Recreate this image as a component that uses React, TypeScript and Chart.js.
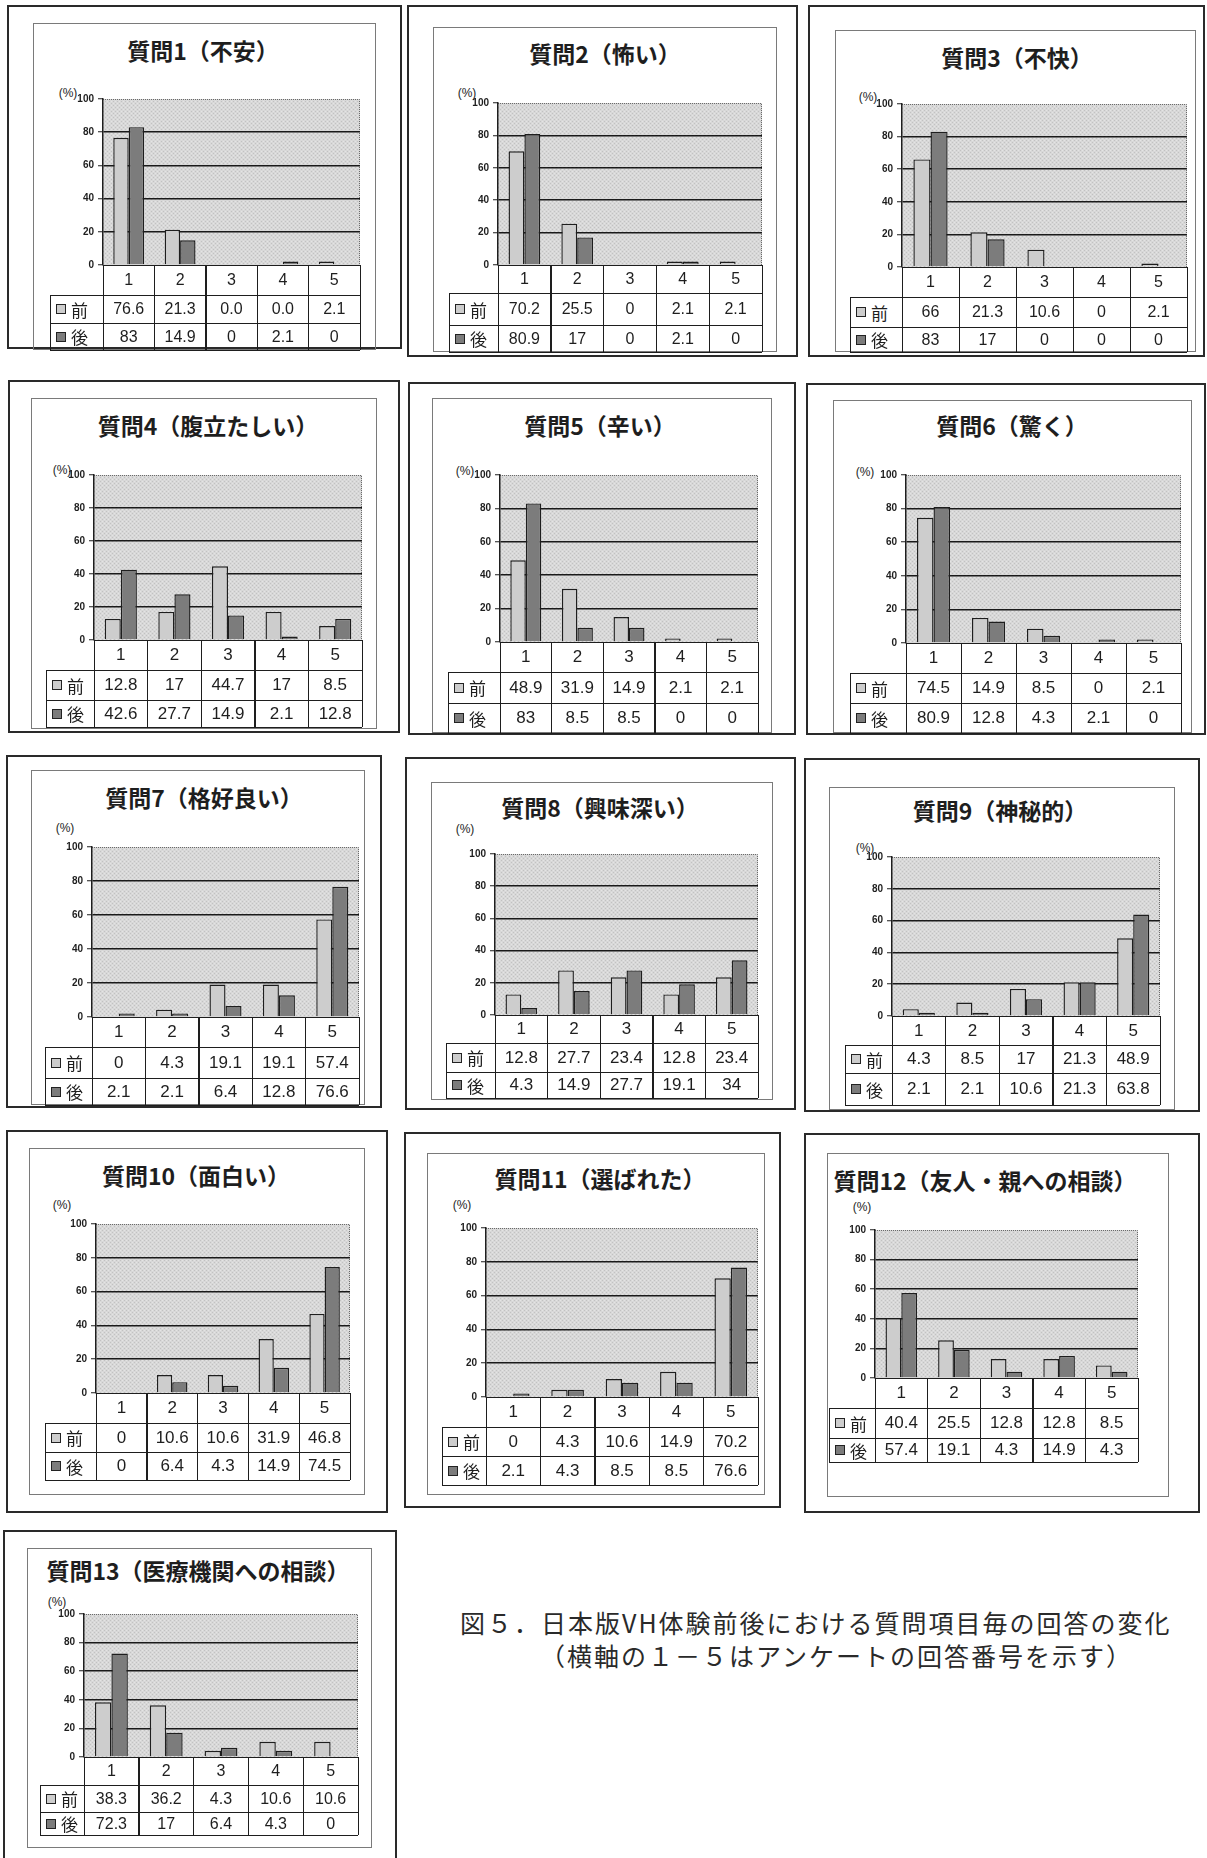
import React, { useEffect, useRef } from "react";
import { Chart, registerables } from "chart.js";

Chart.register(...registerables);

// ---------- data ----------
const categories = ["1", "2", "3", "4", "5"];
const seriesNames = ["前", "後"];
const yTickStep = 20;
const yMax = 100;

const titles = [
  "質問1（不安）",
  "質問2（怖い）",
  "質問3（不快）",
  "質問4（腹立たしい）",
  "質問5（辛い）",
  "質問6（驚く）",
  "質問7（格好良い）",
  "質問8（興味深い）",
  "質問9（神秘的）",
  "質問10（面白い）",
  "質問11（選ばれた）",
  "質問12（友人・親への相談）",
  "質問13（医療機関への相談）",
];

const q1Before = [76.6, 21.3, 0.0, 0.0, 2.1];
const q1After = [83, 14.9, 0, 2.1, 0];
const q2Before = [70.2, 25.5, 0, 2.1, 2.1];
const q2After = [80.9, 17, 0, 2.1, 0];
const q3Before = [66, 21.3, 10.6, 0, 2.1];
const q3After = [83, 17, 0, 0, 0];
const q4Before = [12.8, 17, 44.7, 17, 8.5];
const q4After = [42.6, 27.7, 14.9, 2.1, 12.8];
const q5Before = [48.9, 31.9, 14.9, 2.1, 2.1];
const q5After = [83, 8.5, 8.5, 0, 0];
const q6Before = [74.5, 14.9, 8.5, 0, 2.1];
const q6After = [80.9, 12.8, 4.3, 2.1, 0];
const q7Before = [0, 4.3, 19.1, 19.1, 57.4];
const q7After = [2.1, 2.1, 6.4, 12.8, 76.6];
const q8Before = [12.8, 27.7, 23.4, 12.8, 23.4];
const q8After = [4.3, 14.9, 27.7, 19.1, 34];
const q9Before = [4.3, 8.5, 17, 21.3, 48.9];
const q9After = [2.1, 2.1, 10.6, 21.3, 63.8];
const q10Before = [0, 10.6, 10.6, 31.9, 46.8];
const q10After = [0, 6.4, 4.3, 14.9, 74.5];
const q11Before = [0, 4.3, 10.6, 14.9, 70.2];
const q11After = [2.1, 4.3, 8.5, 8.5, 76.6];
const q12Before = [40.4, 25.5, 12.8, 12.8, 8.5];
const q12After = [57.4, 19.1, 4.3, 14.9, 4.3];
const q13Before = [38.3, 36.2, 4.3, 10.6, 10.6];
const q13After = [72.3, 17, 6.4, 4.3, 0];

const beforeValues = [q1Before, q2Before, q3Before, q4Before, q5Before, q6Before, q7Before, q8Before, q9Before, q10Before, q11Before, q12Before, q13Before];
const afterValues = [q1After, q2After, q3After, q4After, q5After, q6After, q7After, q8After, q9After, q10After, q11After, q12After, q13After];
// question 1 "前" row is printed with one decimal
const beforeFixedOneDecimal = [true, false, false, false, false, false, false, false, false, false, false, false, false];

const captionLines = [
  "図５．日本版VH体験前後における質問項目毎の回答の変化",
  "（横軸の１－５はアンケートの回答番号を示す）",
];

// ---------- layout (page pixel geometry) ----------
type PanelLayout = {
  outer: number[];
  inner: number[];
  title: number[];
  pct: number[];
  plot: number[];
  rows: number[];
  leftX: number;
  narrow: boolean;
};

const layouts: PanelLayout[] = [
  { outer: [7, 5, 402, 349], inner: [33, 23, 376, 350], title: [203, 50], pct: [68, 93], plot: [103, 99, 360, 265], rows: [265, 295, 323, 350], leftX: 50, narrow: false },
  { outer: [407, 5, 798, 357], inner: [433, 27, 777, 352], title: [605, 53], pct: [467, 93], plot: [498, 103, 762, 265], rows: [265, 293, 325, 352], leftX: 449, narrow: false },
  { outer: [808, 5, 1205, 357], inner: [835, 30, 1196, 352], title: [1017, 57], pct: [868, 97], plot: [902, 104, 1187, 267], rows: [267, 297, 327, 352], leftX: 850, narrow: false },
  { outer: [8, 380, 400, 733], inner: [31, 398, 377, 729], title: [208, 425], pct: [62, 470], plot: [94, 475, 362, 640], rows: [640, 670, 700, 727], leftX: 46, narrow: true },
  { outer: [408, 382, 796, 735], inner: [432, 398, 772, 733], title: [600, 425], pct: [465, 471], plot: [500, 475, 758, 642], rows: [642, 672, 703, 733], leftX: 448, narrow: true },
  { outer: [806, 383, 1206, 735], inner: [833, 400, 1192, 733], title: [1012, 425], pct: [865, 472], plot: [906, 475, 1181, 643], rows: [643, 673, 703, 733], leftX: 850, narrow: true },
  { outer: [6, 755, 382, 1108], inner: [31, 770, 365, 1105], title: [204, 797], pct: [65, 828], plot: [92, 847, 359, 1017], rows: [1017, 1047, 1078, 1105], leftX: 45, narrow: true },
  { outer: [405, 757, 796, 1110], inner: [431, 782, 773, 1100], title: [600, 807], pct: [465, 829], plot: [495, 854, 758, 1015], rows: [1015, 1043, 1072, 1098], leftX: 446, narrow: true },
  { outer: [804, 758, 1200, 1112], inner: [829, 787, 1175, 1110], title: [1000, 810], pct: [865, 848], plot: [892, 857, 1160, 1016], rows: [1016, 1045, 1073, 1105], leftX: 845, narrow: true },
  { outer: [6, 1130, 388, 1513], inner: [29, 1148, 365, 1495], title: [196, 1175], pct: [62, 1205], plot: [96, 1224, 350, 1393], rows: [1393, 1423, 1452, 1480], leftX: 45, narrow: true },
  { outer: [404, 1132, 781, 1508], inner: [427, 1153, 765, 1495], title: [600, 1178], pct: [462, 1205], plot: [486, 1228, 758, 1397], rows: [1397, 1427, 1456, 1485], leftX: 442, narrow: true },
  { outer: [804, 1133, 1200, 1513], inner: [827, 1153, 1169, 1497], title: [985, 1180], pct: [862, 1207], plot: [875, 1230, 1138, 1378], rows: [1378, 1408, 1438, 1462], leftX: 829, narrow: true },
  { outer: [3, 1530, 397, 1900], inner: [27, 1548, 372, 1848], title: [198, 1570], pct: [57, 1602], plot: [84, 1614, 358, 1757], rows: [1757, 1785, 1812, 1835], leftX: 40, narrow: false },
];

const captionPos = [
  [460, 1622],
  [540, 1655],
];

// ---------- styles ----------
const BEFORE_FILL = "#cdcdcd";
const AFTER_FILL = "#7c7c7c";
const PLOT_BASE = [216, 216, 216];
const INK = "#1e1e1e";
const CJK = "'Noto Sans CJK JP', 'Noto Sans', sans-serif";
const SANS = "'Liberation Sans', Arial, sans-serif";
const NARROW = "'Liberation Sans Narrow', 'Liberation Sans', Arial, sans-serif";

const PAD_L = 46;
const PAD_T = 10;
const PAD_R = 4;
const PAD_B = 12;

function rgb(c: number[], d: number) {
  return `rgb(${c[0] + d},${c[1] + d},${c[2] + d})`;
}

// deterministic stipple texture like the printed halftone background
function makeStipple(base: number[]): CanvasPattern | string {
  const c = document.createElement("canvas");
  c.width = 4;
  c.height = 4;
  const g = c.getContext("2d");
  if (!g) return rgb(base, 0);
  g.fillStyle = rgb(base, 0);
  g.fillRect(0, 0, 4, 4);
  g.fillStyle = rgb(base, -22);
  g.fillRect(0, 0, 1, 1);
  g.fillRect(2, 2, 1, 1);
  g.fillStyle = rgb(base, 12);
  g.fillRect(2, 0, 1, 1);
  g.fillRect(0, 2, 1, 1);
  const p = g.createPattern(c, "repeat");
  return p || rgb(base, 0);
}

const plotBgPlugin = {
  id: "plotBg",
  beforeDraw(chart: any) {
    const { ctx, chartArea: a } = chart;
    ctx.save();
    ctx.fillStyle = makeStipple(PLOT_BASE);
    ctx.fillRect(a.left, a.top, a.right - a.left, a.bottom - a.top);
    ctx.strokeStyle = "#6a6a6a";
    ctx.lineWidth = 1;
    ctx.setLineDash([1, 1]);
    ctx.beginPath();
    ctx.moveTo(a.left, a.top + 0.5);
    ctx.lineTo(a.right - 0.5, a.top + 0.5);
    ctx.lineTo(a.right - 0.5, a.bottom);
    ctx.stroke();
    ctx.restore();
  },
};

function fmt(v: number, oneDecimal: boolean) {
  return oneDecimal ? v.toFixed(1) : String(v);
}

function Panel({ idx }: { idx: number }) {
  const ref = useRef<HTMLCanvasElement | null>(null);
  const L = layouts[idx];
  const [px1, py1, px2, py2] = L.plot;
  const cw = px2 - px1 + PAD_L + PAD_R;
  const ch = py2 - py1 + PAD_T + PAD_B;

  useEffect(() => {
    if (!ref.current) return;
    const chart = new Chart(ref.current, {
      type: "bar",
      data: {
        labels: categories,
        datasets: [
          {
            label: seriesNames[0],
            data: beforeValues[idx],
            backgroundColor: BEFORE_FILL,
            borderColor: INK,
            borderWidth: 1.4,
            categoryPercentage: 0.6,
            barPercentage: 1,
          },
          {
            label: seriesNames[1],
            data: afterValues[idx],
            backgroundColor: AFTER_FILL,
            borderColor: INK,
            borderWidth: 1.4,
            categoryPercentage: 0.6,
            barPercentage: 1,
          },
        ],
      },
      options: {
        animation: false,
        responsive: false,
        maintainAspectRatio: false,
        devicePixelRatio: 1,
        layout: { padding: { left: 0, top: PAD_T, right: PAD_R, bottom: PAD_B } },
        plugins: {
          legend: { display: false },
          tooltip: { enabled: false },
          title: { display: false },
        },
        scales: {
          x: { display: false },
          y: {
            min: 0,
            max: yMax,
            afterFit: (s: any) => {
              s.width = PAD_L;
            },
            ticks: {
              stepSize: yTickStep,
              color: INK,
              padding: 4,
              font: { family: L.narrow ? NARROW : SANS, size: 10, weight: "bold" },
            },
            grid: {
              color: (c: any) =>
                c.tick && (c.tick.value === 0 || c.tick.value === yMax) ? "rgba(0,0,0,0)" : "#1a1a1a",
              lineWidth: 1.5,
              drawTicks: true,
              tickLength: 5,
              tickColor: INK,
              tickWidth: 1,
            },
            border: { display: true, color: INK, width: 1.5 },
          },
        },
      },
      plugins: [plotBgPlugin],
    } as any);
    return () => chart.destroy();
  }, [idx]);

  const [ox1, oy1, ox2, oy2] = L.outer;
  const [ix1, iy1, ix2, iy2] = L.inner;
  const colW = (px2 - px1) / categories.length;
  const rows = L.rows;
  const tableFont = L.narrow ? NARROW : SANS;
  const tableSize = L.narrow ? 17 : 16;

  const hLines = [
    [px1, rows[0], px2],
    [L.leftX, rows[1], px2],
    [L.leftX, rows[2], px2],
    [L.leftX, rows[3], px2],
  ];
  const vLines: number[][] = [[L.leftX, rows[1], rows[3]]];
  for (let i = 0; i <= categories.length; i++) vLines.push([px1 + i * colW, rows[0], rows[3]]);

  const cellStyle = (x: number, y: number, w: number, h: number): React.CSSProperties => ({
    position: "absolute",
    left: x,
    top: y,
    width: w,
    height: h,
    display: "flex",
    alignItems: "center",
    justifyContent: "center",
    fontFamily: tableFont,
    fontSize: tableSize,
    color: INK,
    whiteSpace: "nowrap",
  });

  const rowValues = [beforeValues[idx], afterValues[idx]];
  const fills = [BEFORE_FILL, AFTER_FILL];

  return (
    <>
      <div
        style={{
          position: "absolute",
          left: ox1,
          top: oy1,
          width: ox2 - ox1,
          height: oy2 - oy1,
          border: "2px solid #2a2a2a",
          boxSizing: "border-box",
        }}
      />
      <div
        style={{
          position: "absolute",
          left: ix1,
          top: iy1,
          width: ix2 - ix1,
          height: iy2 - iy1,
          border: "1px solid #7a7a7a",
          boxSizing: "border-box",
        }}
      />
      <div
        style={{
          position: "absolute",
          left: L.title[0],
          top: L.title[1],
          transform: "translate(-50%, -50%)",
          fontFamily: CJK,
          fontWeight: 700,
          fontSize: 23,
          color: INK,
          whiteSpace: "nowrap",
        }}
      >
        {titles[idx]}
      </div>
      <div
        style={{
          position: "absolute",
          left: L.pct[0],
          top: L.pct[1],
          transform: "translate(-50%, -50%)",
          fontFamily: SANS,
          fontSize: 12,
          color: INK,
          whiteSpace: "nowrap",
        }}
      >
        (%)
      </div>
      <canvas
        ref={ref}
        width={cw}
        height={ch}
        style={{ position: "absolute", left: px1 - PAD_L, top: py1 - PAD_T, width: cw, height: ch }}
      />
      {categories.map((c, i) => (
        <div key={"h" + i} style={cellStyle(px1 + i * colW, rows[0], colW, rows[1] - rows[0])}>
          {c}
        </div>
      ))}
      {rowValues.map((vals, r) => (
        <React.Fragment key={"r" + r}>
          <div
            style={{
              ...cellStyle(L.leftX, rows[r + 1], px1 - L.leftX, rows[r + 2] - rows[r + 1]),
              justifyContent: "flex-start",
              paddingLeft: 6,
              boxSizing: "border-box",
              fontFamily: CJK,
              fontSize: 17,
            }}
          >
            <span
              style={{
                display: "inline-block",
                width: 10,
                height: 10,
                border: "1.5px solid #222",
                background: fills[r],
                marginRight: 5,
                boxSizing: "border-box",
              }}
            />
            {seriesNames[r]}
          </div>
          {vals.map((v, i) => (
            <div key={"c" + i} style={cellStyle(px1 + i * colW, rows[r + 1], colW, rows[r + 2] - rows[r + 1])}>
              {fmt(v, r === 0 && beforeFixedOneDecimal[idx])}
            </div>
          ))}
        </React.Fragment>
      ))}
      {hLines.map((h, i) => (
        <div
          key={"hl" + i}
          style={{ position: "absolute", left: h[0], top: h[1] - 0.5, width: h[2] - h[0], height: 1.3, background: INK }}
        />
      ))}
      {vLines.map((v, i) => (
        <div
          key={"vl" + i}
          style={{ position: "absolute", left: v[0] - 0.5, top: v[1], width: 1.3, height: v[2] - v[1], background: INK }}
        />
      ))}
    </>
  );
}

export default function App() {
  return (
    <div
      style={{
        position: "absolute",
        left: 0,
        top: 0,
        width: 1207,
        height: 1858,
        overflow: "hidden",
        background: "#ffffff",
      }}
    >
      {layouts.map((_, i) => (
        <Panel key={i} idx={i} />
      ))}
      {captionLines.map((t, i) => (
        <div
          key={"cap" + i}
          style={{
            position: "absolute",
            left: captionPos[i][0],
            top: captionPos[i][1],
            transform: "translateY(-50%)",
            fontFamily: CJK,
            fontSize: 25,
            letterSpacing: 2,
            color: "#2a2a2a",
            whiteSpace: "nowrap",
          }}
        >
          {t}
        </div>
      ))}
    </div>
  );
}
